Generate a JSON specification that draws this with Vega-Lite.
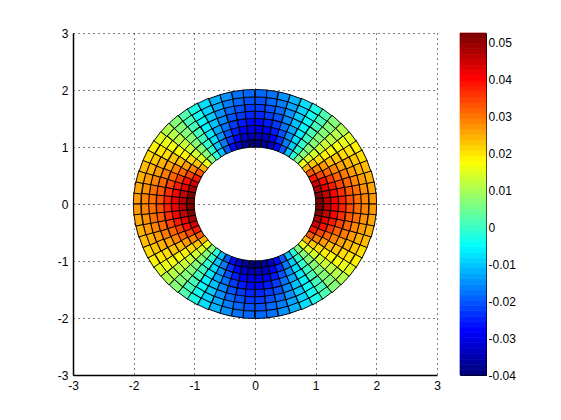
{"$schema":"https://vega.github.io/schema/vega-lite/v6.json","background":"white","padding":{"left":57,"top":27,"right":0,"bottom":0},"spacing":18,"config":{"view":{"stroke":null},"axis":{"labelFont":"Liberation Sans","labelFontSize":12,"labelColor":"black","title":null}},"resolve":{"scale":{"fill":"independent"}},"hconcat":[{"width":364,"height":342,"data":{"values":[
{"x":1.06,"y":0.05,"t":2.8,"k":0,"v":0.053},{"x":1.05,"y":0.16,"t":8.4,"k":0,"v":0.052},{"x":1.03,"y":0.26,"t":14.1,"k":0,"v":0.049},{"x":1.0,"y":0.36,"t":19.7,"k":0,"v":0.045},{"x":0.96,"y":0.45,"t":25.3,"k":0,"v":0.039},{"x":0.91,"y":0.55,"t":30.9,"k":0,"v":0.033},{"x":0.85,"y":0.63,"t":36.6,"k":0,"v":0.025},{"x":0.79,"y":0.71,"t":42.2,"k":0,"v":0.016},{"x":0.71,"y":0.79,"t":47.8,"k":0,"v":0.007},{"x":0.63,"y":0.85,"t":53.4,"k":0,"v":-0.002},{"x":0.55,"y":0.91,"t":59.1,"k":0,"v":-0.011},{"x":0.45,"y":0.96,"t":64.7,"k":0,"v":-0.02},{"x":0.36,"y":1.0,"t":70.3,"k":0,"v":-0.028},{"x":0.26,"y":1.03,"t":75.9,"k":0,"v":-0.034},{"x":0.16,"y":1.05,"t":81.6,"k":0,"v":-0.038},{"x":0.05,"y":1.06,"t":87.2,"k":0,"v":-0.04},
{"x":1.19,"y":0.06,"t":2.8,"k":1,"v":0.047},{"x":1.17,"y":0.17,"t":8.4,"k":1,"v":0.046},{"x":1.15,"y":0.29,"t":14.1,"k":1,"v":0.043},{"x":1.12,"y":0.4,"t":19.7,"k":1,"v":0.04},{"x":1.07,"y":0.51,"t":25.3,"k":1,"v":0.035},{"x":1.02,"y":0.61,"t":30.9,"k":1,"v":0.029},{"x":0.95,"y":0.71,"t":36.6,"k":1,"v":0.023},{"x":0.88,"y":0.8,"t":42.2,"k":1,"v":0.015},{"x":0.8,"y":0.88,"t":47.8,"k":1,"v":0.007},{"x":0.71,"y":0.95,"t":53.4,"k":1,"v":-0.001},{"x":0.61,"y":1.02,"t":59.1,"k":1,"v":-0.01},{"x":0.51,"y":1.07,"t":64.7,"k":1,"v":-0.017},{"x":0.4,"y":1.12,"t":70.3,"k":1,"v":-0.024},{"x":0.29,"y":1.15,"t":75.9,"k":1,"v":-0.029},{"x":0.17,"y":1.17,"t":81.6,"k":1,"v":-0.033},{"x":0.06,"y":1.19,"t":87.2,"k":1,"v":-0.035},
{"x":1.31,"y":0.06,"t":2.8,"k":2,"v":0.042},{"x":1.3,"y":0.19,"t":8.4,"k":2,"v":0.041},{"x":1.27,"y":0.32,"t":14.1,"k":2,"v":0.039},{"x":1.24,"y":0.44,"t":19.7,"k":2,"v":0.036},{"x":1.19,"y":0.56,"t":25.3,"k":2,"v":0.032},{"x":1.13,"y":0.67,"t":30.9,"k":2,"v":0.027},{"x":1.05,"y":0.78,"t":36.6,"k":2,"v":0.021},{"x":0.97,"y":0.88,"t":42.2,"k":2,"v":0.014},{"x":0.88,"y":0.97,"t":47.8,"k":2,"v":0.007},{"x":0.78,"y":1.05,"t":53.4,"k":2,"v":-0.001},{"x":0.67,"y":1.13,"t":59.1,"k":2,"v":-0.008},{"x":0.56,"y":1.19,"t":64.7,"k":2,"v":-0.015},{"x":0.44,"y":1.24,"t":70.3,"k":2,"v":-0.021},{"x":0.32,"y":1.27,"t":75.9,"k":2,"v":-0.026},{"x":0.19,"y":1.3,"t":81.6,"k":2,"v":-0.029},{"x":0.06,"y":1.31,"t":87.2,"k":2,"v":-0.031},
{"x":1.44,"y":0.07,"t":2.8,"k":3,"v":0.038},{"x":1.42,"y":0.21,"t":8.4,"k":3,"v":0.037},{"x":1.39,"y":0.35,"t":14.1,"k":3,"v":0.035},{"x":1.35,"y":0.48,"t":19.7,"k":3,"v":0.032},{"x":1.3,"y":0.61,"t":25.3,"k":3,"v":0.029},{"x":1.23,"y":0.74,"t":30.9,"k":3,"v":0.024},{"x":1.15,"y":0.86,"t":36.6,"k":3,"v":0.019},{"x":1.07,"y":0.97,"t":42.2,"k":3,"v":0.013},{"x":0.97,"y":1.07,"t":47.8,"k":3,"v":0.007},{"x":0.86,"y":1.15,"t":53.4,"k":3,"v":0.0},{"x":0.74,"y":1.23,"t":59.1,"k":3,"v":-0.007},{"x":0.61,"y":1.3,"t":64.7,"k":3,"v":-0.013},{"x":0.48,"y":1.35,"t":70.3,"k":3,"v":-0.018},{"x":0.35,"y":1.39,"t":75.9,"k":3,"v":-0.023},{"x":0.21,"y":1.42,"t":81.6,"k":3,"v":-0.026},{"x":0.07,"y":1.44,"t":87.2,"k":3,"v":-0.028},
{"x":1.56,"y":0.08,"t":2.8,"k":4,"v":0.034},{"x":1.55,"y":0.23,"t":8.4,"k":4,"v":0.033},{"x":1.52,"y":0.38,"t":14.1,"k":4,"v":0.032},{"x":1.47,"y":0.53,"t":19.7,"k":4,"v":0.03},{"x":1.41,"y":0.67,"t":25.3,"k":4,"v":0.026},{"x":1.34,"y":0.8,"t":30.9,"k":4,"v":0.023},{"x":1.25,"y":0.93,"t":36.6,"k":4,"v":0.018},{"x":1.16,"y":1.05,"t":42.2,"k":4,"v":0.013},{"x":1.05,"y":1.16,"t":47.8,"k":4,"v":0.007},{"x":0.93,"y":1.25,"t":53.4,"k":4,"v":0.001},{"x":0.8,"y":1.34,"t":59.1,"k":4,"v":-0.006},{"x":0.67,"y":1.41,"t":64.7,"k":4,"v":-0.011},{"x":0.53,"y":1.47,"t":70.3,"k":4,"v":-0.016},{"x":0.38,"y":1.52,"t":75.9,"k":4,"v":-0.021},{"x":0.23,"y":1.55,"t":81.6,"k":4,"v":-0.023},{"x":0.08,"y":1.56,"t":87.2,"k":4,"v":-0.025},
{"x":1.69,"y":0.08,"t":2.8,"k":5,"v":0.031},{"x":1.67,"y":0.25,"t":8.4,"k":5,"v":0.031},{"x":1.64,"y":0.41,"t":14.1,"k":5,"v":0.029},{"x":1.59,"y":0.57,"t":19.7,"k":5,"v":0.027},{"x":1.53,"y":0.72,"t":25.3,"k":5,"v":0.025},{"x":1.45,"y":0.87,"t":30.9,"k":5,"v":0.021},{"x":1.36,"y":1.01,"t":36.6,"k":5,"v":0.017},{"x":1.25,"y":1.13,"t":42.2,"k":5,"v":0.012},{"x":1.13,"y":1.25,"t":47.8,"k":5,"v":0.007},{"x":1.01,"y":1.36,"t":53.4,"k":5,"v":0.001},{"x":0.87,"y":1.45,"t":59.1,"k":5,"v":-0.005},{"x":0.72,"y":1.53,"t":64.7,"k":5,"v":-0.01},{"x":0.57,"y":1.59,"t":70.3,"k":5,"v":-0.015},{"x":0.41,"y":1.64,"t":75.9,"k":5,"v":-0.019},{"x":0.25,"y":1.67,"t":81.6,"k":5,"v":-0.021},{"x":0.08,"y":1.69,"t":87.2,"k":5,"v":-0.023},
{"x":1.81,"y":0.09,"t":2.8,"k":6,"v":0.029},{"x":1.79,"y":0.27,"t":8.4,"k":6,"v":0.028},{"x":1.76,"y":0.44,"t":14.1,"k":6,"v":0.027},{"x":1.71,"y":0.61,"t":19.7,"k":6,"v":0.025},{"x":1.64,"y":0.78,"t":25.3,"k":6,"v":0.023},{"x":1.55,"y":0.93,"t":30.9,"k":6,"v":0.02},{"x":1.46,"y":1.08,"t":36.6,"k":6,"v":0.016},{"x":1.34,"y":1.22,"t":42.2,"k":6,"v":0.011},{"x":1.22,"y":1.34,"t":47.8,"k":6,"v":0.007},{"x":1.08,"y":1.46,"t":53.4,"k":6,"v":0.001},{"x":0.93,"y":1.55,"t":59.1,"k":6,"v":-0.004},{"x":0.78,"y":1.64,"t":64.7,"k":6,"v":-0.009},{"x":0.61,"y":1.71,"t":70.3,"k":6,"v":-0.013},{"x":0.44,"y":1.76,"t":75.9,"k":6,"v":-0.017},{"x":0.27,"y":1.79,"t":81.6,"k":6,"v":-0.019},{"x":0.09,"y":1.81,"t":87.2,"k":6,"v":-0.021},
{"x":1.94,"y":0.1,"t":2.8,"k":7,"v":0.027},{"x":1.92,"y":0.28,"t":8.4,"k":7,"v":0.026},{"x":1.88,"y":0.47,"t":14.1,"k":7,"v":0.025},{"x":1.82,"y":0.65,"t":19.7,"k":7,"v":0.024},{"x":1.75,"y":0.83,"t":25.3,"k":7,"v":0.021},{"x":1.66,"y":1.0,"t":30.9,"k":7,"v":0.019},{"x":1.56,"y":1.15,"t":36.6,"k":7,"v":0.015},{"x":1.44,"y":1.3,"t":42.2,"k":7,"v":0.011},{"x":1.3,"y":1.44,"t":47.8,"k":7,"v":0.007},{"x":1.15,"y":1.56,"t":53.4,"k":7,"v":0.002},{"x":1.0,"y":1.66,"t":59.1,"k":7,"v":-0.003},{"x":0.83,"y":1.75,"t":64.7,"k":7,"v":-0.008},{"x":0.65,"y":1.82,"t":70.3,"k":7,"v":-0.012},{"x":0.47,"y":1.88,"t":75.9,"k":7,"v":-0.015},{"x":0.28,"y":1.92,"t":81.6,"k":7,"v":-0.018},{"x":0.1,"y":1.94,"t":87.2,"k":7,"v":-0.019},
{"x":-1.06,"y":0.05,"t":177.2,"k":0,"v":0.053},{"x":-1.05,"y":0.16,"t":171.6,"k":0,"v":0.052},{"x":-1.03,"y":0.26,"t":165.9,"k":0,"v":0.049},{"x":-1.0,"y":0.36,"t":160.3,"k":0,"v":0.045},{"x":-0.96,"y":0.45,"t":154.7,"k":0,"v":0.039},{"x":-0.91,"y":0.55,"t":149.1,"k":0,"v":0.033},{"x":-0.85,"y":0.63,"t":143.4,"k":0,"v":0.025},{"x":-0.79,"y":0.71,"t":137.8,"k":0,"v":0.016},{"x":-0.71,"y":0.79,"t":132.2,"k":0,"v":0.007},{"x":-0.63,"y":0.85,"t":126.6,"k":0,"v":-0.002},{"x":-0.55,"y":0.91,"t":120.9,"k":0,"v":-0.011},{"x":-0.45,"y":0.96,"t":115.3,"k":0,"v":-0.02},{"x":-0.36,"y":1.0,"t":109.7,"k":0,"v":-0.028},{"x":-0.26,"y":1.03,"t":104.1,"k":0,"v":-0.034},{"x":-0.16,"y":1.05,"t":98.4,"k":0,"v":-0.038},{"x":-0.05,"y":1.06,"t":92.8,"k":0,"v":-0.04},
{"x":-1.19,"y":0.06,"t":177.2,"k":1,"v":0.047},{"x":-1.17,"y":0.17,"t":171.6,"k":1,"v":0.046},{"x":-1.15,"y":0.29,"t":165.9,"k":1,"v":0.043},{"x":-1.12,"y":0.4,"t":160.3,"k":1,"v":0.04},{"x":-1.07,"y":0.51,"t":154.7,"k":1,"v":0.035},{"x":-1.02,"y":0.61,"t":149.1,"k":1,"v":0.029},{"x":-0.95,"y":0.71,"t":143.4,"k":1,"v":0.023},{"x":-0.88,"y":0.8,"t":137.8,"k":1,"v":0.015},{"x":-0.8,"y":0.88,"t":132.2,"k":1,"v":0.007},{"x":-0.71,"y":0.95,"t":126.6,"k":1,"v":-0.001},{"x":-0.61,"y":1.02,"t":120.9,"k":1,"v":-0.01},{"x":-0.51,"y":1.07,"t":115.3,"k":1,"v":-0.017},{"x":-0.4,"y":1.12,"t":109.7,"k":1,"v":-0.024},{"x":-0.29,"y":1.15,"t":104.1,"k":1,"v":-0.029},{"x":-0.17,"y":1.17,"t":98.4,"k":1,"v":-0.033},{"x":-0.06,"y":1.19,"t":92.8,"k":1,"v":-0.035},
{"x":-1.31,"y":0.06,"t":177.2,"k":2,"v":0.042},{"x":-1.3,"y":0.19,"t":171.6,"k":2,"v":0.041},{"x":-1.27,"y":0.32,"t":165.9,"k":2,"v":0.039},{"x":-1.24,"y":0.44,"t":160.3,"k":2,"v":0.036},{"x":-1.19,"y":0.56,"t":154.7,"k":2,"v":0.032},{"x":-1.13,"y":0.67,"t":149.1,"k":2,"v":0.027},{"x":-1.05,"y":0.78,"t":143.4,"k":2,"v":0.021},{"x":-0.97,"y":0.88,"t":137.8,"k":2,"v":0.014},{"x":-0.88,"y":0.97,"t":132.2,"k":2,"v":0.007},{"x":-0.78,"y":1.05,"t":126.6,"k":2,"v":-0.001},{"x":-0.67,"y":1.13,"t":120.9,"k":2,"v":-0.008},{"x":-0.56,"y":1.19,"t":115.3,"k":2,"v":-0.015},{"x":-0.44,"y":1.24,"t":109.7,"k":2,"v":-0.021},{"x":-0.32,"y":1.27,"t":104.1,"k":2,"v":-0.026},{"x":-0.19,"y":1.3,"t":98.4,"k":2,"v":-0.029},{"x":-0.06,"y":1.31,"t":92.8,"k":2,"v":-0.031},
{"x":-1.44,"y":0.07,"t":177.2,"k":3,"v":0.038},{"x":-1.42,"y":0.21,"t":171.6,"k":3,"v":0.037},{"x":-1.39,"y":0.35,"t":165.9,"k":3,"v":0.035},{"x":-1.35,"y":0.48,"t":160.3,"k":3,"v":0.032},{"x":-1.3,"y":0.61,"t":154.7,"k":3,"v":0.029},{"x":-1.23,"y":0.74,"t":149.1,"k":3,"v":0.024},{"x":-1.15,"y":0.86,"t":143.4,"k":3,"v":0.019},{"x":-1.07,"y":0.97,"t":137.8,"k":3,"v":0.013},{"x":-0.97,"y":1.07,"t":132.2,"k":3,"v":0.007},{"x":-0.86,"y":1.15,"t":126.6,"k":3,"v":0.0},{"x":-0.74,"y":1.23,"t":120.9,"k":3,"v":-0.007},{"x":-0.61,"y":1.3,"t":115.3,"k":3,"v":-0.013},{"x":-0.48,"y":1.35,"t":109.7,"k":3,"v":-0.018},{"x":-0.35,"y":1.39,"t":104.1,"k":3,"v":-0.023},{"x":-0.21,"y":1.42,"t":98.4,"k":3,"v":-0.026},{"x":-0.07,"y":1.44,"t":92.8,"k":3,"v":-0.028},
{"x":-1.56,"y":0.08,"t":177.2,"k":4,"v":0.034},{"x":-1.55,"y":0.23,"t":171.6,"k":4,"v":0.033},{"x":-1.52,"y":0.38,"t":165.9,"k":4,"v":0.032},{"x":-1.47,"y":0.53,"t":160.3,"k":4,"v":0.03},{"x":-1.41,"y":0.67,"t":154.7,"k":4,"v":0.026},{"x":-1.34,"y":0.8,"t":149.1,"k":4,"v":0.023},{"x":-1.25,"y":0.93,"t":143.4,"k":4,"v":0.018},{"x":-1.16,"y":1.05,"t":137.8,"k":4,"v":0.013},{"x":-1.05,"y":1.16,"t":132.2,"k":4,"v":0.007},{"x":-0.93,"y":1.25,"t":126.6,"k":4,"v":0.001},{"x":-0.8,"y":1.34,"t":120.9,"k":4,"v":-0.006},{"x":-0.67,"y":1.41,"t":115.3,"k":4,"v":-0.011},{"x":-0.53,"y":1.47,"t":109.7,"k":4,"v":-0.016},{"x":-0.38,"y":1.52,"t":104.1,"k":4,"v":-0.021},{"x":-0.23,"y":1.55,"t":98.4,"k":4,"v":-0.023},{"x":-0.08,"y":1.56,"t":92.8,"k":4,"v":-0.025},
{"x":-1.69,"y":0.08,"t":177.2,"k":5,"v":0.031},{"x":-1.67,"y":0.25,"t":171.6,"k":5,"v":0.031},{"x":-1.64,"y":0.41,"t":165.9,"k":5,"v":0.029},{"x":-1.59,"y":0.57,"t":160.3,"k":5,"v":0.027},{"x":-1.53,"y":0.72,"t":154.7,"k":5,"v":0.025},{"x":-1.45,"y":0.87,"t":149.1,"k":5,"v":0.021},{"x":-1.36,"y":1.01,"t":143.4,"k":5,"v":0.017},{"x":-1.25,"y":1.13,"t":137.8,"k":5,"v":0.012},{"x":-1.13,"y":1.25,"t":132.2,"k":5,"v":0.007},{"x":-1.01,"y":1.36,"t":126.6,"k":5,"v":0.001},{"x":-0.87,"y":1.45,"t":120.9,"k":5,"v":-0.005},{"x":-0.72,"y":1.53,"t":115.3,"k":5,"v":-0.01},{"x":-0.57,"y":1.59,"t":109.7,"k":5,"v":-0.015},{"x":-0.41,"y":1.64,"t":104.1,"k":5,"v":-0.019},{"x":-0.25,"y":1.67,"t":98.4,"k":5,"v":-0.021},{"x":-0.08,"y":1.69,"t":92.8,"k":5,"v":-0.023},
{"x":-1.81,"y":0.09,"t":177.2,"k":6,"v":0.029},{"x":-1.79,"y":0.27,"t":171.6,"k":6,"v":0.028},{"x":-1.76,"y":0.44,"t":165.9,"k":6,"v":0.027},{"x":-1.71,"y":0.61,"t":160.3,"k":6,"v":0.025},{"x":-1.64,"y":0.78,"t":154.7,"k":6,"v":0.023},{"x":-1.55,"y":0.93,"t":149.1,"k":6,"v":0.02},{"x":-1.46,"y":1.08,"t":143.4,"k":6,"v":0.016},{"x":-1.34,"y":1.22,"t":137.8,"k":6,"v":0.011},{"x":-1.22,"y":1.34,"t":132.2,"k":6,"v":0.007},{"x":-1.08,"y":1.46,"t":126.6,"k":6,"v":0.001},{"x":-0.93,"y":1.55,"t":120.9,"k":6,"v":-0.004},{"x":-0.78,"y":1.64,"t":115.3,"k":6,"v":-0.009},{"x":-0.61,"y":1.71,"t":109.7,"k":6,"v":-0.013},{"x":-0.44,"y":1.76,"t":104.1,"k":6,"v":-0.017},{"x":-0.27,"y":1.79,"t":98.4,"k":6,"v":-0.019},{"x":-0.09,"y":1.81,"t":92.8,"k":6,"v":-0.021},
{"x":-1.94,"y":0.1,"t":177.2,"k":7,"v":0.027},{"x":-1.92,"y":0.28,"t":171.6,"k":7,"v":0.026},{"x":-1.88,"y":0.47,"t":165.9,"k":7,"v":0.025},{"x":-1.82,"y":0.65,"t":160.3,"k":7,"v":0.024},{"x":-1.75,"y":0.83,"t":154.7,"k":7,"v":0.021},{"x":-1.66,"y":1.0,"t":149.1,"k":7,"v":0.019},{"x":-1.56,"y":1.15,"t":143.4,"k":7,"v":0.015},{"x":-1.44,"y":1.3,"t":137.8,"k":7,"v":0.011},{"x":-1.3,"y":1.44,"t":132.2,"k":7,"v":0.007},{"x":-1.15,"y":1.56,"t":126.6,"k":7,"v":0.002},{"x":-1.0,"y":1.66,"t":120.9,"k":7,"v":-0.003},{"x":-0.83,"y":1.75,"t":115.3,"k":7,"v":-0.008},{"x":-0.65,"y":1.82,"t":109.7,"k":7,"v":-0.012},{"x":-0.47,"y":1.88,"t":104.1,"k":7,"v":-0.015},{"x":-0.28,"y":1.92,"t":98.4,"k":7,"v":-0.018},{"x":-0.1,"y":1.94,"t":92.8,"k":7,"v":-0.019},
{"x":-1.06,"y":-0.05,"t":182.8,"k":0,"v":0.053},{"x":-1.05,"y":-0.16,"t":188.4,"k":0,"v":0.052},{"x":-1.03,"y":-0.26,"t":194.1,"k":0,"v":0.049},{"x":-1.0,"y":-0.36,"t":199.7,"k":0,"v":0.045},{"x":-0.96,"y":-0.45,"t":205.3,"k":0,"v":0.039},{"x":-0.91,"y":-0.55,"t":210.9,"k":0,"v":0.033},{"x":-0.85,"y":-0.63,"t":216.6,"k":0,"v":0.025},{"x":-0.79,"y":-0.71,"t":222.2,"k":0,"v":0.016},{"x":-0.71,"y":-0.79,"t":227.8,"k":0,"v":0.007},{"x":-0.63,"y":-0.85,"t":233.4,"k":0,"v":-0.002},{"x":-0.55,"y":-0.91,"t":239.1,"k":0,"v":-0.011},{"x":-0.45,"y":-0.96,"t":244.7,"k":0,"v":-0.02},{"x":-0.36,"y":-1.0,"t":250.3,"k":0,"v":-0.028},{"x":-0.26,"y":-1.03,"t":255.9,"k":0,"v":-0.034},{"x":-0.16,"y":-1.05,"t":261.6,"k":0,"v":-0.038},{"x":-0.05,"y":-1.06,"t":267.2,"k":0,"v":-0.04},
{"x":-1.19,"y":-0.06,"t":182.8,"k":1,"v":0.047},{"x":-1.17,"y":-0.17,"t":188.4,"k":1,"v":0.046},{"x":-1.15,"y":-0.29,"t":194.1,"k":1,"v":0.043},{"x":-1.12,"y":-0.4,"t":199.7,"k":1,"v":0.04},{"x":-1.07,"y":-0.51,"t":205.3,"k":1,"v":0.035},{"x":-1.02,"y":-0.61,"t":210.9,"k":1,"v":0.029},{"x":-0.95,"y":-0.71,"t":216.6,"k":1,"v":0.023},{"x":-0.88,"y":-0.8,"t":222.2,"k":1,"v":0.015},{"x":-0.8,"y":-0.88,"t":227.8,"k":1,"v":0.007},{"x":-0.71,"y":-0.95,"t":233.4,"k":1,"v":-0.001},{"x":-0.61,"y":-1.02,"t":239.1,"k":1,"v":-0.01},{"x":-0.51,"y":-1.07,"t":244.7,"k":1,"v":-0.017},{"x":-0.4,"y":-1.12,"t":250.3,"k":1,"v":-0.024},{"x":-0.29,"y":-1.15,"t":255.9,"k":1,"v":-0.029},{"x":-0.17,"y":-1.17,"t":261.6,"k":1,"v":-0.033},{"x":-0.06,"y":-1.19,"t":267.2,"k":1,"v":-0.035},
{"x":-1.31,"y":-0.06,"t":182.8,"k":2,"v":0.042},{"x":-1.3,"y":-0.19,"t":188.4,"k":2,"v":0.041},{"x":-1.27,"y":-0.32,"t":194.1,"k":2,"v":0.039},{"x":-1.24,"y":-0.44,"t":199.7,"k":2,"v":0.036},{"x":-1.19,"y":-0.56,"t":205.3,"k":2,"v":0.032},{"x":-1.13,"y":-0.67,"t":210.9,"k":2,"v":0.027},{"x":-1.05,"y":-0.78,"t":216.6,"k":2,"v":0.021},{"x":-0.97,"y":-0.88,"t":222.2,"k":2,"v":0.014},{"x":-0.88,"y":-0.97,"t":227.8,"k":2,"v":0.007},{"x":-0.78,"y":-1.05,"t":233.4,"k":2,"v":-0.001},{"x":-0.67,"y":-1.13,"t":239.1,"k":2,"v":-0.008},{"x":-0.56,"y":-1.19,"t":244.7,"k":2,"v":-0.015},{"x":-0.44,"y":-1.24,"t":250.3,"k":2,"v":-0.021},{"x":-0.32,"y":-1.27,"t":255.9,"k":2,"v":-0.026},{"x":-0.19,"y":-1.3,"t":261.6,"k":2,"v":-0.029},{"x":-0.06,"y":-1.31,"t":267.2,"k":2,"v":-0.031},
{"x":-1.44,"y":-0.07,"t":182.8,"k":3,"v":0.038},{"x":-1.42,"y":-0.21,"t":188.4,"k":3,"v":0.037},{"x":-1.39,"y":-0.35,"t":194.1,"k":3,"v":0.035},{"x":-1.35,"y":-0.48,"t":199.7,"k":3,"v":0.032},{"x":-1.3,"y":-0.61,"t":205.3,"k":3,"v":0.029},{"x":-1.23,"y":-0.74,"t":210.9,"k":3,"v":0.024},{"x":-1.15,"y":-0.86,"t":216.6,"k":3,"v":0.019},{"x":-1.07,"y":-0.97,"t":222.2,"k":3,"v":0.013},{"x":-0.97,"y":-1.07,"t":227.8,"k":3,"v":0.007},{"x":-0.86,"y":-1.15,"t":233.4,"k":3,"v":0.0},{"x":-0.74,"y":-1.23,"t":239.1,"k":3,"v":-0.007},{"x":-0.61,"y":-1.3,"t":244.7,"k":3,"v":-0.013},{"x":-0.48,"y":-1.35,"t":250.3,"k":3,"v":-0.018},{"x":-0.35,"y":-1.39,"t":255.9,"k":3,"v":-0.023},{"x":-0.21,"y":-1.42,"t":261.6,"k":3,"v":-0.026},{"x":-0.07,"y":-1.44,"t":267.2,"k":3,"v":-0.028},
{"x":-1.56,"y":-0.08,"t":182.8,"k":4,"v":0.034},{"x":-1.55,"y":-0.23,"t":188.4,"k":4,"v":0.033},{"x":-1.52,"y":-0.38,"t":194.1,"k":4,"v":0.032},{"x":-1.47,"y":-0.53,"t":199.7,"k":4,"v":0.03},{"x":-1.41,"y":-0.67,"t":205.3,"k":4,"v":0.026},{"x":-1.34,"y":-0.8,"t":210.9,"k":4,"v":0.023},{"x":-1.25,"y":-0.93,"t":216.6,"k":4,"v":0.018},{"x":-1.16,"y":-1.05,"t":222.2,"k":4,"v":0.013},{"x":-1.05,"y":-1.16,"t":227.8,"k":4,"v":0.007},{"x":-0.93,"y":-1.25,"t":233.4,"k":4,"v":0.001},{"x":-0.8,"y":-1.34,"t":239.1,"k":4,"v":-0.006},{"x":-0.67,"y":-1.41,"t":244.7,"k":4,"v":-0.011},{"x":-0.53,"y":-1.47,"t":250.3,"k":4,"v":-0.016},{"x":-0.38,"y":-1.52,"t":255.9,"k":4,"v":-0.021},{"x":-0.23,"y":-1.55,"t":261.6,"k":4,"v":-0.023},{"x":-0.08,"y":-1.56,"t":267.2,"k":4,"v":-0.025},
{"x":-1.69,"y":-0.08,"t":182.8,"k":5,"v":0.031},{"x":-1.67,"y":-0.25,"t":188.4,"k":5,"v":0.031},{"x":-1.64,"y":-0.41,"t":194.1,"k":5,"v":0.029},{"x":-1.59,"y":-0.57,"t":199.7,"k":5,"v":0.027},{"x":-1.53,"y":-0.72,"t":205.3,"k":5,"v":0.025},{"x":-1.45,"y":-0.87,"t":210.9,"k":5,"v":0.021},{"x":-1.36,"y":-1.01,"t":216.6,"k":5,"v":0.017},{"x":-1.25,"y":-1.13,"t":222.2,"k":5,"v":0.012},{"x":-1.13,"y":-1.25,"t":227.8,"k":5,"v":0.007},{"x":-1.01,"y":-1.36,"t":233.4,"k":5,"v":0.001},{"x":-0.87,"y":-1.45,"t":239.1,"k":5,"v":-0.005},{"x":-0.72,"y":-1.53,"t":244.7,"k":5,"v":-0.01},{"x":-0.57,"y":-1.59,"t":250.3,"k":5,"v":-0.015},{"x":-0.41,"y":-1.64,"t":255.9,"k":5,"v":-0.019},{"x":-0.25,"y":-1.67,"t":261.6,"k":5,"v":-0.021},{"x":-0.08,"y":-1.69,"t":267.2,"k":5,"v":-0.023},
{"x":-1.81,"y":-0.09,"t":182.8,"k":6,"v":0.029},{"x":-1.79,"y":-0.27,"t":188.4,"k":6,"v":0.028},{"x":-1.76,"y":-0.44,"t":194.1,"k":6,"v":0.027},{"x":-1.71,"y":-0.61,"t":199.7,"k":6,"v":0.025},{"x":-1.64,"y":-0.78,"t":205.3,"k":6,"v":0.023},{"x":-1.55,"y":-0.93,"t":210.9,"k":6,"v":0.02},{"x":-1.46,"y":-1.08,"t":216.6,"k":6,"v":0.016},{"x":-1.34,"y":-1.22,"t":222.2,"k":6,"v":0.011},{"x":-1.22,"y":-1.34,"t":227.8,"k":6,"v":0.007},{"x":-1.08,"y":-1.46,"t":233.4,"k":6,"v":0.001},{"x":-0.93,"y":-1.55,"t":239.1,"k":6,"v":-0.004},{"x":-0.78,"y":-1.64,"t":244.7,"k":6,"v":-0.009},{"x":-0.61,"y":-1.71,"t":250.3,"k":6,"v":-0.013},{"x":-0.44,"y":-1.76,"t":255.9,"k":6,"v":-0.017},{"x":-0.27,"y":-1.79,"t":261.6,"k":6,"v":-0.019},{"x":-0.09,"y":-1.81,"t":267.2,"k":6,"v":-0.021},
{"x":-1.94,"y":-0.1,"t":182.8,"k":7,"v":0.027},{"x":-1.92,"y":-0.28,"t":188.4,"k":7,"v":0.026},{"x":-1.88,"y":-0.47,"t":194.1,"k":7,"v":0.025},{"x":-1.82,"y":-0.65,"t":199.7,"k":7,"v":0.024},{"x":-1.75,"y":-0.83,"t":205.3,"k":7,"v":0.021},{"x":-1.66,"y":-1.0,"t":210.9,"k":7,"v":0.019},{"x":-1.56,"y":-1.15,"t":216.6,"k":7,"v":0.015},{"x":-1.44,"y":-1.3,"t":222.2,"k":7,"v":0.011},{"x":-1.3,"y":-1.44,"t":227.8,"k":7,"v":0.007},{"x":-1.15,"y":-1.56,"t":233.4,"k":7,"v":0.002},{"x":-1.0,"y":-1.66,"t":239.1,"k":7,"v":-0.003},{"x":-0.83,"y":-1.75,"t":244.7,"k":7,"v":-0.008},{"x":-0.65,"y":-1.82,"t":250.3,"k":7,"v":-0.012},{"x":-0.47,"y":-1.88,"t":255.9,"k":7,"v":-0.015},{"x":-0.28,"y":-1.92,"t":261.6,"k":7,"v":-0.018},{"x":-0.1,"y":-1.94,"t":267.2,"k":7,"v":-0.019},
{"x":1.06,"y":-0.05,"t":357.2,"k":0,"v":0.053},{"x":1.05,"y":-0.16,"t":351.6,"k":0,"v":0.052},{"x":1.03,"y":-0.26,"t":345.9,"k":0,"v":0.049},{"x":1.0,"y":-0.36,"t":340.3,"k":0,"v":0.045},{"x":0.96,"y":-0.45,"t":334.7,"k":0,"v":0.039},{"x":0.91,"y":-0.55,"t":329.1,"k":0,"v":0.033},{"x":0.85,"y":-0.63,"t":323.4,"k":0,"v":0.025},{"x":0.79,"y":-0.71,"t":317.8,"k":0,"v":0.016},{"x":0.71,"y":-0.79,"t":312.2,"k":0,"v":0.007},{"x":0.63,"y":-0.85,"t":306.6,"k":0,"v":-0.002},{"x":0.55,"y":-0.91,"t":300.9,"k":0,"v":-0.011},{"x":0.45,"y":-0.96,"t":295.3,"k":0,"v":-0.02},{"x":0.36,"y":-1.0,"t":289.7,"k":0,"v":-0.028},{"x":0.26,"y":-1.03,"t":284.1,"k":0,"v":-0.034},{"x":0.16,"y":-1.05,"t":278.4,"k":0,"v":-0.038},{"x":0.05,"y":-1.06,"t":272.8,"k":0,"v":-0.04},
{"x":1.19,"y":-0.06,"t":357.2,"k":1,"v":0.047},{"x":1.17,"y":-0.17,"t":351.6,"k":1,"v":0.046},{"x":1.15,"y":-0.29,"t":345.9,"k":1,"v":0.043},{"x":1.12,"y":-0.4,"t":340.3,"k":1,"v":0.04},{"x":1.07,"y":-0.51,"t":334.7,"k":1,"v":0.035},{"x":1.02,"y":-0.61,"t":329.1,"k":1,"v":0.029},{"x":0.95,"y":-0.71,"t":323.4,"k":1,"v":0.023},{"x":0.88,"y":-0.8,"t":317.8,"k":1,"v":0.015},{"x":0.8,"y":-0.88,"t":312.2,"k":1,"v":0.007},{"x":0.71,"y":-0.95,"t":306.6,"k":1,"v":-0.001},{"x":0.61,"y":-1.02,"t":300.9,"k":1,"v":-0.01},{"x":0.51,"y":-1.07,"t":295.3,"k":1,"v":-0.017},{"x":0.4,"y":-1.12,"t":289.7,"k":1,"v":-0.024},{"x":0.29,"y":-1.15,"t":284.1,"k":1,"v":-0.029},{"x":0.17,"y":-1.17,"t":278.4,"k":1,"v":-0.033},{"x":0.06,"y":-1.19,"t":272.8,"k":1,"v":-0.035},
{"x":1.31,"y":-0.06,"t":357.2,"k":2,"v":0.042},{"x":1.3,"y":-0.19,"t":351.6,"k":2,"v":0.041},{"x":1.27,"y":-0.32,"t":345.9,"k":2,"v":0.039},{"x":1.24,"y":-0.44,"t":340.3,"k":2,"v":0.036},{"x":1.19,"y":-0.56,"t":334.7,"k":2,"v":0.032},{"x":1.13,"y":-0.67,"t":329.1,"k":2,"v":0.027},{"x":1.05,"y":-0.78,"t":323.4,"k":2,"v":0.021},{"x":0.97,"y":-0.88,"t":317.8,"k":2,"v":0.014},{"x":0.88,"y":-0.97,"t":312.2,"k":2,"v":0.007},{"x":0.78,"y":-1.05,"t":306.6,"k":2,"v":-0.001},{"x":0.67,"y":-1.13,"t":300.9,"k":2,"v":-0.008},{"x":0.56,"y":-1.19,"t":295.3,"k":2,"v":-0.015},{"x":0.44,"y":-1.24,"t":289.7,"k":2,"v":-0.021},{"x":0.32,"y":-1.27,"t":284.1,"k":2,"v":-0.026},{"x":0.19,"y":-1.3,"t":278.4,"k":2,"v":-0.029},{"x":0.06,"y":-1.31,"t":272.8,"k":2,"v":-0.031},
{"x":1.44,"y":-0.07,"t":357.2,"k":3,"v":0.038},{"x":1.42,"y":-0.21,"t":351.6,"k":3,"v":0.037},{"x":1.39,"y":-0.35,"t":345.9,"k":3,"v":0.035},{"x":1.35,"y":-0.48,"t":340.3,"k":3,"v":0.032},{"x":1.3,"y":-0.61,"t":334.7,"k":3,"v":0.029},{"x":1.23,"y":-0.74,"t":329.1,"k":3,"v":0.024},{"x":1.15,"y":-0.86,"t":323.4,"k":3,"v":0.019},{"x":1.07,"y":-0.97,"t":317.8,"k":3,"v":0.013},{"x":0.97,"y":-1.07,"t":312.2,"k":3,"v":0.007},{"x":0.86,"y":-1.15,"t":306.6,"k":3,"v":0.0},{"x":0.74,"y":-1.23,"t":300.9,"k":3,"v":-0.007},{"x":0.61,"y":-1.3,"t":295.3,"k":3,"v":-0.013},{"x":0.48,"y":-1.35,"t":289.7,"k":3,"v":-0.018},{"x":0.35,"y":-1.39,"t":284.1,"k":3,"v":-0.023},{"x":0.21,"y":-1.42,"t":278.4,"k":3,"v":-0.026},{"x":0.07,"y":-1.44,"t":272.8,"k":3,"v":-0.028},
{"x":1.56,"y":-0.08,"t":357.2,"k":4,"v":0.034},{"x":1.55,"y":-0.23,"t":351.6,"k":4,"v":0.033},{"x":1.52,"y":-0.38,"t":345.9,"k":4,"v":0.032},{"x":1.47,"y":-0.53,"t":340.3,"k":4,"v":0.03},{"x":1.41,"y":-0.67,"t":334.7,"k":4,"v":0.026},{"x":1.34,"y":-0.8,"t":329.1,"k":4,"v":0.023},{"x":1.25,"y":-0.93,"t":323.4,"k":4,"v":0.018},{"x":1.16,"y":-1.05,"t":317.8,"k":4,"v":0.013},{"x":1.05,"y":-1.16,"t":312.2,"k":4,"v":0.007},{"x":0.93,"y":-1.25,"t":306.6,"k":4,"v":0.001},{"x":0.8,"y":-1.34,"t":300.9,"k":4,"v":-0.006},{"x":0.67,"y":-1.41,"t":295.3,"k":4,"v":-0.011},{"x":0.53,"y":-1.47,"t":289.7,"k":4,"v":-0.016},{"x":0.38,"y":-1.52,"t":284.1,"k":4,"v":-0.021},{"x":0.23,"y":-1.55,"t":278.4,"k":4,"v":-0.023},{"x":0.08,"y":-1.56,"t":272.8,"k":4,"v":-0.025},
{"x":1.69,"y":-0.08,"t":357.2,"k":5,"v":0.031},{"x":1.67,"y":-0.25,"t":351.6,"k":5,"v":0.031},{"x":1.64,"y":-0.41,"t":345.9,"k":5,"v":0.029},{"x":1.59,"y":-0.57,"t":340.3,"k":5,"v":0.027},{"x":1.53,"y":-0.72,"t":334.7,"k":5,"v":0.025},{"x":1.45,"y":-0.87,"t":329.1,"k":5,"v":0.021},{"x":1.36,"y":-1.01,"t":323.4,"k":5,"v":0.017},{"x":1.25,"y":-1.13,"t":317.8,"k":5,"v":0.012},{"x":1.13,"y":-1.25,"t":312.2,"k":5,"v":0.007},{"x":1.01,"y":-1.36,"t":306.6,"k":5,"v":0.001},{"x":0.87,"y":-1.45,"t":300.9,"k":5,"v":-0.005},{"x":0.72,"y":-1.53,"t":295.3,"k":5,"v":-0.01},{"x":0.57,"y":-1.59,"t":289.7,"k":5,"v":-0.015},{"x":0.41,"y":-1.64,"t":284.1,"k":5,"v":-0.019},{"x":0.25,"y":-1.67,"t":278.4,"k":5,"v":-0.021},{"x":0.08,"y":-1.69,"t":272.8,"k":5,"v":-0.023},
{"x":1.81,"y":-0.09,"t":357.2,"k":6,"v":0.029},{"x":1.79,"y":-0.27,"t":351.6,"k":6,"v":0.028},{"x":1.76,"y":-0.44,"t":345.9,"k":6,"v":0.027},{"x":1.71,"y":-0.61,"t":340.3,"k":6,"v":0.025},{"x":1.64,"y":-0.78,"t":334.7,"k":6,"v":0.023},{"x":1.55,"y":-0.93,"t":329.1,"k":6,"v":0.02},{"x":1.46,"y":-1.08,"t":323.4,"k":6,"v":0.016},{"x":1.34,"y":-1.22,"t":317.8,"k":6,"v":0.011},{"x":1.22,"y":-1.34,"t":312.2,"k":6,"v":0.007},{"x":1.08,"y":-1.46,"t":306.6,"k":6,"v":0.001},{"x":0.93,"y":-1.55,"t":300.9,"k":6,"v":-0.004},{"x":0.78,"y":-1.64,"t":295.3,"k":6,"v":-0.009},{"x":0.61,"y":-1.71,"t":289.7,"k":6,"v":-0.013},{"x":0.44,"y":-1.76,"t":284.1,"k":6,"v":-0.017},{"x":0.27,"y":-1.79,"t":278.4,"k":6,"v":-0.019},{"x":0.09,"y":-1.81,"t":272.8,"k":6,"v":-0.021},
{"x":1.94,"y":-0.1,"t":357.2,"k":7,"v":0.027},{"x":1.92,"y":-0.28,"t":351.6,"k":7,"v":0.026},{"x":1.88,"y":-0.47,"t":345.9,"k":7,"v":0.025},{"x":1.82,"y":-0.65,"t":340.3,"k":7,"v":0.024},{"x":1.75,"y":-0.83,"t":334.7,"k":7,"v":0.021},{"x":1.66,"y":-1.0,"t":329.1,"k":7,"v":0.019},{"x":1.56,"y":-1.15,"t":323.4,"k":7,"v":0.015},{"x":1.44,"y":-1.3,"t":317.8,"k":7,"v":0.011},{"x":1.3,"y":-1.44,"t":312.2,"k":7,"v":0.007},{"x":1.15,"y":-1.56,"t":306.6,"k":7,"v":0.002},{"x":1.0,"y":-1.66,"t":300.9,"k":7,"v":-0.003},{"x":0.83,"y":-1.75,"t":295.3,"k":7,"v":-0.008},{"x":0.65,"y":-1.82,"t":289.7,"k":7,"v":-0.012},{"x":0.47,"y":-1.88,"t":284.1,"k":7,"v":-0.015},{"x":0.28,"y":-1.92,"t":278.4,"k":7,"v":-0.018},{"x":0.1,"y":-1.94,"t":272.8,"k":7,"v":-0.019}
]},"mark":{"type":"point","filled":true,"opacity":1,"stroke":"black","strokeWidth":0.9,"size":400},"encoding":{"x":{"field":"x","type":"quantitative","scale":{"domain":[-3,3],"nice":false},"axis":{"values":[-3,-2,-1,0,1,2,3],"labelExpr":"''+datum.value","grid":true,"gridColor":"black","gridDash":[1,4],"gridOpacity":1,"domainColor":"black","domainWidth":1.5,"ticks":false,"labelPadding":5,"labelFlush":false,"labelOverlap":false}},"y":{"field":"y","type":"quantitative","scale":{"domain":[-3,3],"nice":false},"axis":{"values":[-3,-2,-1,0,1,2,3],"labelExpr":"''+datum.value","grid":true,"gridColor":"black","gridDash":[1,4],"gridOpacity":1,"domainColor":"black","domainWidth":1.5,"ticks":false,"labelPadding":5,"labelFlush":false,"labelOverlap":false}},"fill":{"field":"v","type":"quantitative","scale":{"domain":[-0.04,0.0527],"clamp":true,"interpolate":"rgb","range":["#00007f","#0000ff","#007fff","#00ffff","#7fff7f","#ffff00","#ff7f00","#ff0000","#7f0000"]},"legend":null},"angle":{"field":"t","type":"quantitative","scale":{"domain":[0,360],"range":[90,-270]},"legend":null},"shape":{"field":"k","type":"ordinal","scale":{"domain":[0,1,2,3,4,5,6,7],"range":["M-0.29,0.37L-0.326,-0.37L0.326,-0.37L0.29,0.37Z","M-0.326,0.37L-0.363,-0.37L0.363,-0.37L0.326,0.37Z","M-0.363,0.37L-0.399,-0.37L0.399,-0.37L0.363,0.37Z","M-0.399,0.37L-0.435,-0.37L0.435,-0.37L0.399,0.37Z","M-0.435,0.37L-0.471,-0.37L0.471,-0.37L0.435,0.37Z","M-0.471,0.37L-0.508,-0.37L0.508,-0.37L0.471,0.37Z","M-0.508,0.37L-0.544,-0.37L0.544,-0.37L0.508,0.37Z","M-0.544,0.37L-0.58,-0.37L0.58,-0.37L0.544,0.37Z"]},"legend":null}}},
{"width":26,"height":342,"view":{"stroke":"black"},"data":{"values":[{"lo":-0.04,"hi":-0.0386},{"lo":-0.0386,"hi":-0.0371},{"lo":-0.0371,"hi":-0.0357},{"lo":-0.0357,"hi":-0.0342},{"lo":-0.0342,"hi":-0.0328},{"lo":-0.0328,"hi":-0.0313},{"lo":-0.0313,"hi":-0.0299},{"lo":-0.0299,"hi":-0.0284},{"lo":-0.0284,"hi":-0.027},{"lo":-0.027,"hi":-0.0255},{"lo":-0.0255,"hi":-0.0241},{"lo":-0.0241,"hi":-0.0226},{"lo":-0.0226,"hi":-0.0212},{"lo":-0.0212,"hi":-0.0197},{"lo":-0.0197,"hi":-0.0183},{"lo":-0.0183,"hi":-0.0168},{"lo":-0.0168,"hi":-0.0154},{"lo":-0.0154,"hi":-0.0139},{"lo":-0.0139,"hi":-0.0125},{"lo":-0.0125,"hi":-0.011},{"lo":-0.011,"hi":-0.0096},{"lo":-0.0096,"hi":-0.0081},{"lo":-0.0081,"hi":-0.0067},{"lo":-0.0067,"hi":-0.0052},{"lo":-0.0052,"hi":-0.0038},{"lo":-0.0038,"hi":-0.0023},{"lo":-0.0023,"hi":-0.0009},{"lo":-0.0009,"hi":0.0006},{"lo":0.0006,"hi":0.002},{"lo":0.002,"hi":0.0035},{"lo":0.0035,"hi":0.0049},{"lo":0.0049,"hi":0.0064},{"lo":0.0064,"hi":0.0078},{"lo":0.0078,"hi":0.0092},{"lo":0.0092,"hi":0.0107},{"lo":0.0107,"hi":0.0121},{"lo":0.0121,"hi":0.0136},{"lo":0.0136,"hi":0.015},{"lo":0.015,"hi":0.0165},{"lo":0.0165,"hi":0.0179},{"lo":0.0179,"hi":0.0194},{"lo":0.0194,"hi":0.0208},{"lo":0.0208,"hi":0.0223},{"lo":0.0223,"hi":0.0237},{"lo":0.0237,"hi":0.0252},{"lo":0.0252,"hi":0.0266},{"lo":0.0266,"hi":0.0281},{"lo":0.0281,"hi":0.0295},{"lo":0.0295,"hi":0.031},{"lo":0.031,"hi":0.0324},{"lo":0.0324,"hi":0.0339},{"lo":0.0339,"hi":0.0353},{"lo":0.0353,"hi":0.0368},{"lo":0.0368,"hi":0.0382},{"lo":0.0382,"hi":0.0397},{"lo":0.0397,"hi":0.0411},{"lo":0.0411,"hi":0.0426},{"lo":0.0426,"hi":0.044},{"lo":0.044,"hi":0.0455},{"lo":0.0455,"hi":0.0469},{"lo":0.0469,"hi":0.0484},{"lo":0.0484,"hi":0.0498},{"lo":0.0498,"hi":0.0513},{"lo":0.0513,"hi":0.0527}]},"mark":{"type":"rect","strokeWidth":0.7},"encoding":{"y":{"field":"lo","type":"quantitative","scale":{"domain":[-0.04,0.0527],"nice":false,"zero":false},"axis":{"orient":"right","values":[-0.04,-0.03,-0.02,-0.01,0,0.01,0.02,0.03,0.04,0.05],"labelExpr":"''+datum.value","grid":false,"domain":false,"tickColor":"black","tickSize":-4,"labelPadding":6,"labelFlush":false,"labelOverlap":false}},"y2":{"field":"hi"},"fill":{"field":"lo","type":"quantitative","scale":{"domain":[-0.04,0.0513],"interpolate":"rgb","range":["#00007f","#0000ff","#007fff","#00ffff","#7fff7f","#ffff00","#ff7f00","#ff0000","#7f0000"]},"legend":null},"stroke":{"field":"lo","type":"quantitative","scale":{"domain":[-0.04,0.0513],"interpolate":"rgb","range":["#00007f","#0000ff","#007fff","#00ffff","#7fff7f","#ffff00","#ff7f00","#ff0000","#7f0000"]},"legend":null}}}]}
